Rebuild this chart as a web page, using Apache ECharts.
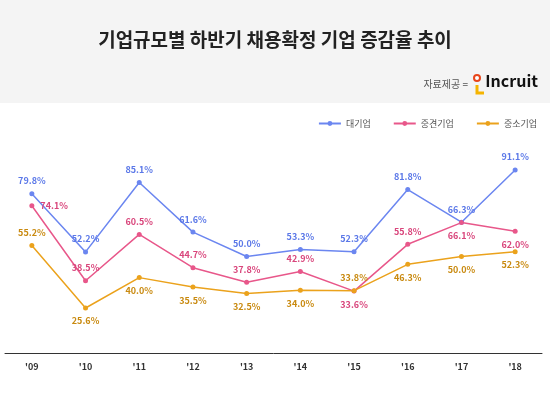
<!DOCTYPE html><html><head><meta charset="utf-8"><script src="https://cdn.jsdelivr.net/npm/echarts@6/dist/echarts.min.js"></script>
<style>body{margin:0;background:#fff}#c{width:550px;height:410px}</style></head><body><div id="c"></div><script>
const categories=["'09","'10","'11","'12","'13","'14","'15","'16","'17","'18"];
const large=[79.8,52.2,85.1,61.6,50.0,53.3,52.3,81.8,66.3,91.1];
const mid=[74.1,38.5,60.5,44.7,37.8,42.9,33.6,55.8,66.1,62.0];
const small=[55.2,25.6,40.0,35.5,32.5,34.0,33.8,46.3,50.0,52.3];
const names=['대기업','중견기업','중소기업'];
const colors=['#6b86f0','#e8578a','#eba21c'];
const labelColors=['#5b78e8','#d9467c','#c98a10'];
const pos=[['top','top','top','top','top','top','top','top','top','top'],
 ['right','top','top','top','top','top','bottom','top','bottom','bottom'],
 ['top','bottom','bottom','bottom','bottom','bottom','top','bottom','bottom','bottom']];
const F='"Noto Sans CJK KR","Noto Sans",sans-serif';
const series=[large,mid,small].map((d,i)=>({name:names[i],type:'line',data:d.map((v,j)=>({value:v,label:{position:pos[i][j]}})),
 symbol:'circle',symbolSize:5,lineStyle:{width:1.5,color:colors[i]},itemStyle:{color:colors[i]},
 label:{show:true,fontSize:9,fontWeight:'bold',color:labelColors[i],fontFamily:F,distance:6,formatter:p=>p.value.toFixed(1)+'%'}}));
const c=echarts.init(document.getElementById('c'));
c.setOption({animation:false,
 graphic:[{type:'rect',shape:{x:0,y:0,width:550,height:103},style:{fill:'#f4f4f4'},z:-10},
 {type:'text',left:'center',top:30,style:{text:'기업규모별 하반기 채용확정 기업 증감율 추이',font:'bold 19px '+F,fill:'#222'}},
 {type:'text',right:82,top:79,style:{text:'자료제공 =',font:'10px '+F,fill:'#555'}},
 {type:'circle',shape:{cx:477,cy:78,r:3},style:{fill:'#fff',stroke:'#e8451a',lineWidth:2}},
 {type:'polyline',shape:{points:[[477,85],[477,93],[484,93]]},style:{stroke:'#f5b400',lineWidth:3,fill:null}},
 {type:'text',right:12,top:73,style:{text:'Incruit',font:'bold 16px '+F,fill:'#111'}}],
 legend:{right:8,top:114,itemWidth:22,itemHeight:6,itemGap:22,textStyle:{fontSize:9,color:'#555',fontFamily:F},data:names},
 grid:{left:5,right:8,top:109,bottom:56.5},
 xAxis:{type:'category',data:categories,axisTick:{show:false},axisLine:{lineStyle:{color:'#333',width:1}},
  axisLabel:{fontSize:9,fontWeight:'bold',color:'#333',margin:9,fontFamily:F}},
 yAxis:{type:'value',min:4,max:120,show:false,splitLine:{show:false}},
 series});
</script></body></html>
